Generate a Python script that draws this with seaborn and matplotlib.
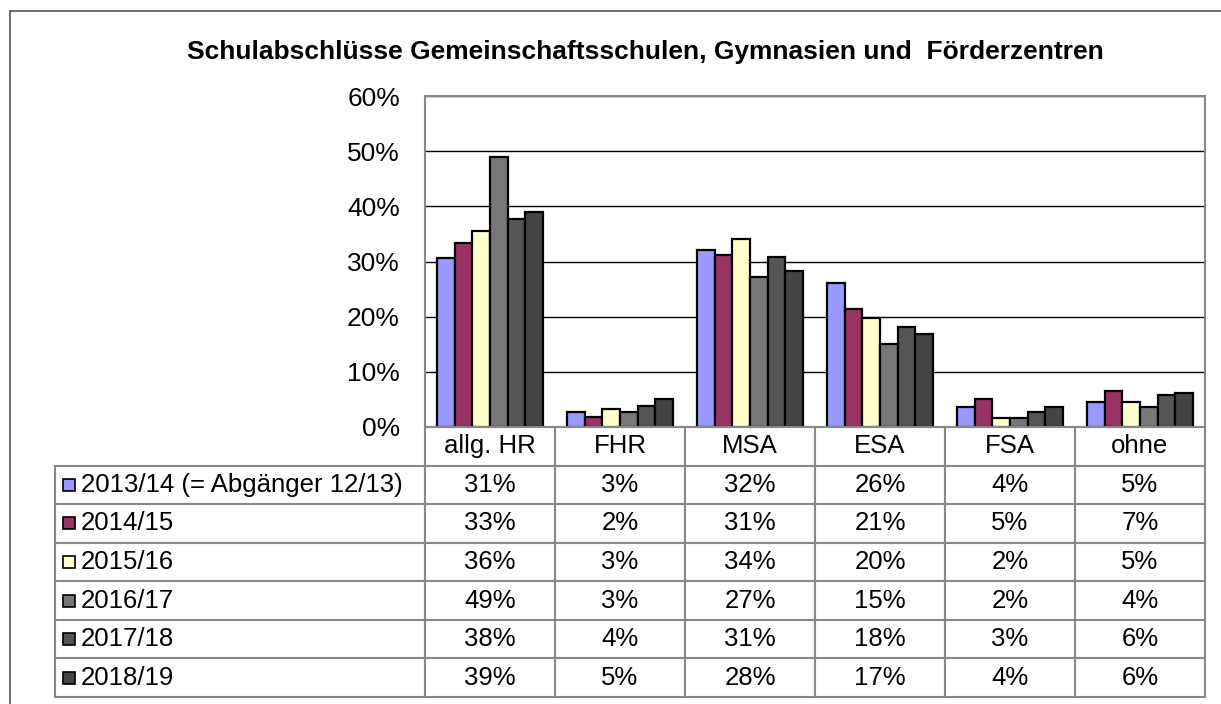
import pandas as pd
import matplotlib
matplotlib.use("Agg")
import matplotlib.pyplot as plt
import seaborn as sns
from matplotlib.patches import Rectangle
from matplotlib.lines import Line2D
from matplotlib.ticker import FuncFormatter

# data (percent)
categories = ['allg. HR', 'FHR', 'MSA', 'ESA', 'FSA', 'ohne']
years = ['2013/14 (= Abgänger 12/13)', '2014/15', '2015/16', '2016/17', '2017/18', '2018/19']
share_2013 = [30.6, 2.7, 32.0, 26.1, 3.6, 4.6]
share_2014 = [33.3, 1.9, 31.1, 21.3, 5.0, 6.6]
share_2015 = [35.6, 3.2, 34.1, 19.8, 1.7, 4.6]
share_2016 = [49.0, 2.8, 27.1, 15.0, 1.6, 3.6]
share_2017 = [37.7, 3.8, 30.8, 18.1, 2.8, 5.8]
share_2018 = [39.0, 5.0, 28.3, 16.9, 3.6, 6.1]
series = [share_2013, share_2014, share_2015, share_2016, share_2017, share_2018]
colors = ['#9999FF', '#993366', '#FFFFCC', '#777777', '#555555', '#444444']

df = pd.DataFrame(
    [(c, y, v) for y, vals in zip(years, series) for c, v in zip(categories, vals)],
    columns=['Abschluss', 'Jahr', 'Anteil'])

sns.set_style('white')
plt.rcParams['font.family'] = ['Liberation Sans', 'DejaVu Sans']
plt.rcParams['text.color'] = 'black'
plt.rcParams['ytick.color'] = 'black'
plt.rcParams['xtick.color'] = 'black'

W, H = 1221, 704
fig = plt.figure(figsize=(W / 100, H / 100), dpi=100)

def px(x, y):
    return x / W, 1 - y / H

# plot area in pixels: x 425..1205, y 96..427
ax = fig.add_axes([425 / W, 1 - 427 / H, 780 / W, 331 / H])
sns.barplot(data=df, x='Abschluss', y='Anteil', hue='Jahr', order=categories,
            hue_order=years, palette=colors, saturation=1, width=0.81,
            edgecolor='black', linewidth=1.6, legend=False, ax=ax)

ax.set_ylim(0, 60)
ax.set_yticks(range(0, 61, 10))
ax.yaxis.set_major_formatter(FuncFormatter(lambda v, p: f'{v:.0f}%'))
ax.yaxis.grid(True, color='black', linewidth=1)
ax.set_axisbelow(True)
ax.tick_params(axis='y', labelsize=19, length=0, pad=18, labelcolor='black')
ax.set_xticks([])
ax.set_xlabel('')
ax.set_ylabel('')
for s in ax.spines.values():
    s.set_color('#888888')
    s.set_linewidth(1.5)

# data table below the plot
tab_left, tab_bottom = 55, 697
first_w = 425 - tab_left
cell_text = [[''] + categories]
for vals in series:
    cell_text.append([''] + [f'{v:.0f}%' for v in vals])
col_w = [first_w] + [130] * len(categories)
tab = ax.table(cellText=cell_text, cellLoc='center', colWidths=[w / sum(col_w) for w in col_w],
               bbox=[(tab_left - 425) / 780, -(tab_bottom - 427) / 331,
                     sum(col_w) / 780, (tab_bottom - 427) / 331])
tab.auto_set_font_size(False)
tab.set_fontsize(18.5)
for (r, c), cell in tab.get_celld().items():
    cell.set_edgecolor('#888888')
    cell.set_linewidth(1.5)
    cell.get_text().set_color('black')
    if r == 0 and c == 0:
        cell.visible_edges = ''

# row labels with legend keys
row_h = (tab_bottom - 427) / 7
for i, (yr, col) in enumerate(zip(years, colors)):
    yc = 427 + (i + 1.5) * row_h
    fig.add_artist(Rectangle(px(63, yc + 6), 12 / W, 12 / H, facecolor=col,
                             edgecolor='black', linewidth=1.2, transform=fig.transFigure))
    fig.text(*px(81, yc), yr, fontsize=18.5, ha='left', va='center', color='black')

# title
fig.text(*px(645, 52), 'Schulabschlüsse Gemeinschaftsschulen, Gymnasien und  Förderzentren',
         fontsize=19, fontweight='bold', ha='center', va='center', color='black')

# outer chart frame (clipped at the right and bottom)
fig.add_artist(Line2D([10 / W, 1], [1 - 11 / H, 1 - 11 / H], color='#555555', lw=1.2,
                      transform=fig.transFigure))
fig.add_artist(Line2D([10 / W, 10 / W], [1 - 11 / H, 0], color='#555555', lw=1.2,
                      transform=fig.transFigure))

fig.savefig('out.png', dpi=100)
